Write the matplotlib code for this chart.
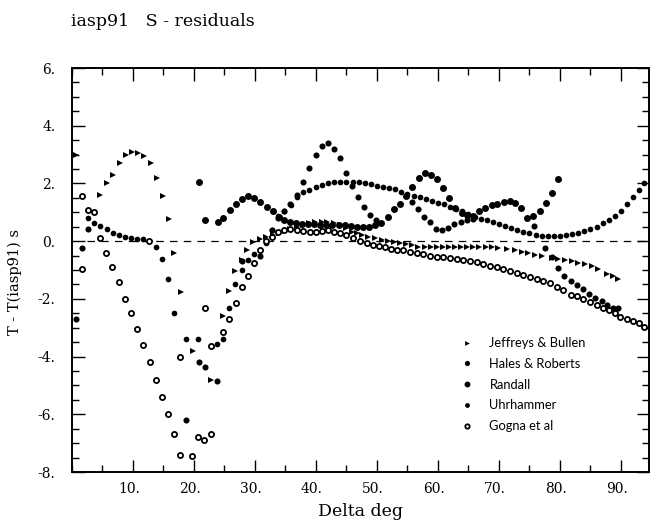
import matplotlib
matplotlib.use("Agg")
import matplotlib.pyplot as plt
from matplotlib.ticker import MultipleLocator, FuncFormatter
from matplotlib.transforms import ScaledTranslation

# S-wave travel time residuals against iasp91, one list pair per table
jb_x = [0.6, 4.6, 5.7, 6.7, 7.9, 8.9, 9.8, 10.8, 11.8, 12.9,
        13.9, 14.9, 15.9, 16.7, 17.9, 19.8, 22.8, 24.8, 25.7, 26.8,
        27.8, 28.7, 29.7, 30.8, 31.8, 32.9, 33.9, 34.9, 35.7, 36.9,
        37.9, 38.9, 39.8, 41.0, 41.8, 43.0, 44.0, 45.0, 45.9, 46.7,
        47.6, 48.5, 49.7, 50.8, 51.8, 52.8, 53.8, 54.8, 55.8, 56.8,
        57.8, 58.8, 59.8, 60.8, 61.8, 62.8, 63.8, 64.8, 65.8, 66.8,
        67.8, 68.8, 69.8, 71.3, 72.6, 73.7, 74.8, 75.9, 77.0, 78.7,
        79.7, 80.8, 82.0, 83.0, 84.1, 85.2, 86.2, 87.7, 88.7, 89.5]
jb_y = [3.0, 1.6, 2.0, 2.3, 2.7, 3.0, 3.1, 3.05, 2.95, 2.7,
        2.2, 1.55, 0.76, -0.42, -1.77, -3.8, -4.8, -2.6, -1.74, -1.04,
        -0.65, -0.31, -0.04, 0.06, 0.15, 0.2, 0.27, 0.35, 0.41, 0.5,
        0.56, 0.62, 0.67, 0.67, 0.66, 0.62, 0.55, 0.45, 0.31, 0.28,
        0.2, 0.15, 0.1, 0.05, 0.0, -0.03, -0.07, -0.1, -0.15, -0.2,
        -0.22, -0.22, -0.2, -0.2, -0.22, -0.2, -0.2, -0.22, -0.2, -0.2,
        -0.2, -0.22, -0.24, -0.27, -0.3, -0.36, -0.42, -0.49, -0.52, -0.59,
        -0.63, -0.66, -0.7, -0.76, -0.8, -0.87, -0.97, -1.15, -1.2, -1.32]

hr_x = [0.6, 1.6, 2.6, 18.7, 20.8, 21.8, 23.8, 27.9, 29.8, 30.8,
        32.8, 33.8, 34.8, 35.8, 36.9, 37.9, 38.9, 40.0, 41.0, 42.0,
        43.0, 43.9, 44.9, 45.9, 46.9, 47.9, 48.9, 49.8, 55.7, 56.7,
        57.7, 58.7, 59.7, 60.7, 61.7, 62.6, 63.8, 64.7, 65.7, 75.7,
        77.5, 78.7, 79.7, 80.7, 81.8, 82.8, 83.8, 84.8, 85.7, 86.9,
        87.7, 88.7, 89.5]
hr_y = [-2.7, -0.25, 0.42, -6.2, -4.2, -4.35, -4.83, -0.7, -0.77, -0.52,
        0.38, 0.8, 1.05, 1.3, 1.6, 2.05, 2.55, 3.0, 3.3, 3.4,
        3.2, 2.87, 2.36, 1.9, 1.52, 1.17, 0.9, 0.75, 1.35, 1.1,
        0.84, 0.65, 0.42, 0.38, 0.46, 0.58, 0.68, 0.75, 0.78, 0.52,
        -0.24, -0.56, -0.93, -1.22, -1.39, -1.53, -1.67, -1.84, -1.98, -2.08,
        -2.22, -2.3, -2.33]

rd_x = [20.8, 21.8, 23.9, 24.8, 25.9, 26.9, 27.9, 28.9, 29.9, 30.9,
        31.9, 32.9, 33.9, 34.8, 35.7, 36.7, 37.7, 38.7, 39.7, 40.7,
        41.7, 42.7, 43.7, 44.7, 45.7, 46.7, 47.7, 48.7, 49.7, 50.7,
        51.8, 52.8, 53.8, 54.8, 55.7, 56.9, 57.9, 58.9, 59.8, 60.8,
        61.8, 62.8, 63.9, 64.7, 65.7, 66.7, 67.7, 68.8, 69.7, 70.8,
        71.8, 72.6, 73.6, 74.6, 75.6, 76.7, 77.7, 78.7, 79.7]
rd_y = [2.05, 0.73, 0.66, 0.8, 1.07, 1.3, 1.46, 1.57, 1.5, 1.35,
        1.2, 1.04, 0.84, 0.73, 0.65, 0.62, 0.6, 0.6, 0.6, 0.57,
        0.57, 0.57, 0.55, 0.55, 0.52, 0.5, 0.5, 0.5, 0.55, 0.62,
        0.84, 1.1, 1.3, 1.56, 1.87, 2.2, 2.36, 2.3, 2.15, 1.84,
        1.5, 1.15, 0.97, 0.9, 0.87, 1.04, 1.15, 1.25, 1.28, 1.35,
        1.39, 1.32, 1.15, 0.8, 0.87, 1.04, 1.32, 1.67, 2.15]

uh_x = [2.6, 3.6, 4.6, 5.7, 6.7, 7.7, 8.7, 9.7, 10.7, 11.6,
        13.8, 14.8, 15.7, 16.7, 18.7, 20.7, 23.8, 24.8, 25.7, 26.7,
        27.9, 28.9, 29.8, 30.8, 31.8, 32.8, 33.8, 34.8, 35.9, 36.9,
        37.9, 38.9,
        40, 41, 42, 43, 44, 45, 46, 47, 48, 49,
        50, 51, 52, 53, 54, 55, 56, 57, 58, 59,
        60, 61, 62, 63, 64, 65, 66, 67, 68, 69,
        70, 71, 72, 73, 74, 75, 76, 77, 78, 79,
        80, 81, 82, 83, 84, 85, 86, 87, 88, 89,
        90, 91, 92, 93, 93.8]
uh_y = [0.8, 0.63, 0.53, 0.42, 0.28, 0.2, 0.14, 0.1, 0.07, 0.07,
        -0.2, -0.63, -1.3, -2.5, -3.4, -3.4, -3.55, -3.4, -2.3, -1.5,
        -1.0, -0.67, -0.43, -0.3, -0.07, 0.38, 0.86, 1.03, 1.25, 1.53,
        1.7, 1.77,
        1.87, 1.94, 2.0, 2.05, 2.05, 2.05, 2.05, 2.04, 2.0, 1.98,
        1.92, 1.88, 1.84, 1.8, 1.72, 1.63, 1.57, 1.52, 1.46, 1.39,
        1.32, 1.28, 1.18, 1.12, 1.05, 0.95, 0.85, 0.76, 0.73, 0.66,
        0.6, 0.52, 0.45, 0.38, 0.31, 0.28, 0.21, 0.17, 0.17, 0.17,
        0.17, 0.21, 0.24, 0.28, 0.35, 0.42, 0.49, 0.62, 0.73, 0.87,
        1.04, 1.28, 1.53, 1.77, 2.0]

gg_x = [1.6, 2.6, 3.6, 1.6, 12.6,
        4.6, 5.6, 6.6, 7.7, 8.7, 9.7, 10.7, 11.6, 12.8, 13.8,
        14.8, 15.7, 16.7, 17.7, 19.7, 20.7, 21.6, 22.8,
        17.7, 21.8, 22.8, 24.8, 25.7, 26.9, 27.9, 28.9, 29.8, 30.8,
        31.8, 32.8, 33.8, 34.8, 35.8, 36.9, 37.9, 39.0, 40.0, 41.0,
        42.0, 43.0, 44.0, 45.0, 46.0, 47.2, 48.3, 49.3, 50.3, 51.3,
        52.3, 53.3, 54.3, 55.4, 56.5, 57.5, 58.7, 59.8, 60.8, 62.0,
        63.1, 64.1, 65.2, 66.4, 67.4, 68.5, 69.7, 70.7, 71.8, 72.9,
        73.9, 75.1, 76.2, 77.2, 78.4, 79.5, 80.5, 81.8, 82.8, 83.8,
        84.9, 86.0, 87.0, 88.0, 89.0, 89.8, 91.0, 92.0, 93.0, 93.8]
gg_y = [1.56, 1.07, 1.0, -0.98, 0.0,
        0.1, -0.4, -0.9, -1.4, -2.0, -2.5, -3.05, -3.6, -4.2, -4.8,
        -5.4, -6.0, -6.7, -7.4, -7.45, -6.8, -6.9, -6.7,
        -4.0, -2.3, -3.65, -3.15, -2.7, -2.15, -1.6, -1.2, -0.75, -0.3,
        0.0, 0.15, 0.3, 0.4, 0.42, 0.38, 0.35, 0.31, 0.31, 0.36,
        0.38, 0.31, 0.28, 0.21, 0.1, 0.0, -0.08, -0.14, -0.18, -0.22,
        -0.26, -0.29, -0.31, -0.38, -0.42, -0.45, -0.52, -0.55, -0.56, -0.59,
        -0.63, -0.66, -0.69, -0.73, -0.8, -0.87, -0.9, -0.97, -1.04, -1.1,
        -1.18, -1.25, -1.32, -1.39, -1.46, -1.6, -1.7, -1.87, -1.91, -2.0,
        -2.1, -2.2, -2.3, -2.37, -2.5, -2.63, -2.7, -2.78, -2.84, -2.98]

x_ticks = [10, 20, 30, 40, 50, 60, 70, 80, 90]
y_ticks = [-8, -6, -4, -2, 0, 2, 4, 6]

serif = ["DejaVu Serif"]

fig = plt.figure(figsize=(6.52, 5.25), dpi=100)
ax = fig.add_axes([72 / 652, 1 - 472 / 525, 577 / 652, 404 / 525])

ax.plot([2.5, 95], [0, 0], ls=(0, (6, 5)), color="black", lw=0.9)

ax.plot(jb_x, jb_y, ls="none", marker=">", ms=4.0, color="black", mew=0,
        label="Jeffreys & Bullen")
ax.plot(hr_x, hr_y, ls="none", marker="o", ms=4.4, color="black", mew=0,
        label="Hales & Roberts")
ax.plot(rd_x, rd_y, ls="none", marker="o", ms=5.0, color="black", mew=0,
        label="Randall")
ax.plot(uh_x, uh_y, ls="none", marker="o", ms=4.1, color="black", mew=0,
        label="Uhrhammer")
ax.plot(gg_x, gg_y, ls="none", marker="o", ms=3.7, color="black",
        mfc="white", mew=1.3, label="Gogna et al")

ax.set_xlim(0, 94.6)
ax.set_ylim(-8, 6)
ax.set_xticks(x_ticks)
ax.set_yticks(y_ticks)
ax.xaxis.set_minor_locator(MultipleLocator(5))
ax.yaxis.set_minor_locator(MultipleLocator(0.5))
fmt = FuncFormatter(lambda v, p: f"{v:.0f}.")
ax.xaxis.set_major_formatter(fmt)
ax.yaxis.set_major_formatter(fmt)
ax.tick_params(which="both", direction="in", top=True, right=True,
               width=1.0, labelsize=10)
ax.tick_params(which="major", length=9)
ax.tick_params(which="minor", length=5)
ax.tick_params(axis="x", pad=7)
ax.tick_params(axis="y", pad=12)
shift = ScaledTranslation(-3 / 72, 0, fig.dpi_scale_trans)
for lab in ax.get_xticklabels():
    lab.set_family(serif)
    lab.set_transform(lab.get_transform() + shift)
for lab in ax.get_yticklabels():
    lab.set_family(serif)
for sp in ax.spines.values():
    sp.set_linewidth(1.4)

ax.set_xlabel("Delta deg", family=serif, fontsize=12.5, labelpad=5)
ax.set_ylabel("T - T(iasp91) s", family=serif, fontsize=10.5)
ax.yaxis.set_label_coords(-0.087, 0.47)
fig.text(71 / 652, 1 - 21 / 525, "iasp91   S - residuals", family=serif,
         fontsize=12.5, va="center", ha="left")

leg = ax.legend(loc="upper left", bbox_to_anchor=(0.662, 0.35), frameon=False,
                prop={"family": "Lato", "size": 9.3}, handlelength=1.0,
                handletextpad=1.25, labelspacing=0.68, borderpad=0,
                markerscale=0.85)

fig.savefig("out.png", dpi=100)
